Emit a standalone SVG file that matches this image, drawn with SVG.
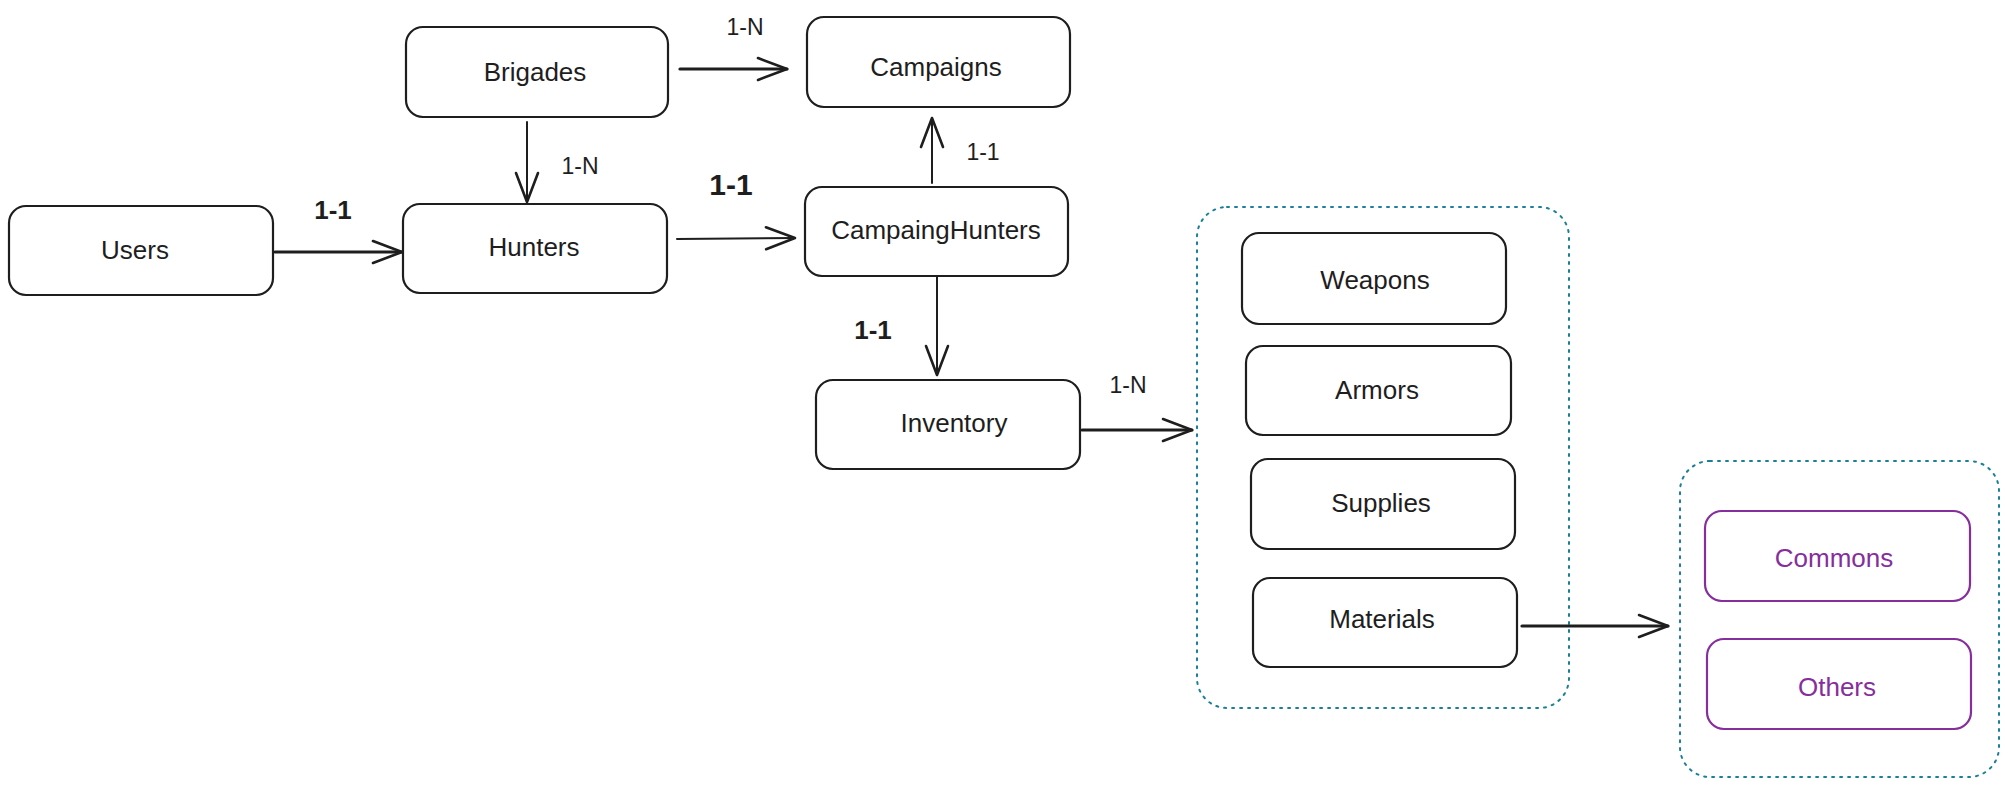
<svg xmlns="http://www.w3.org/2000/svg" width="2009" height="786" viewBox="0 0 2009 786">
  <style>
    .box { fill: #ffffff; stroke: #1e1e1e; stroke-width: 2.2; }
    .pbox { fill: #ffffff; stroke: #862e9c; stroke-width: 2.2; }
    .group { fill: none; stroke: #1c7f98; stroke-width: 2; stroke-dasharray: 2 6; stroke-linecap: round; }
    .t { font-family: "Liberation Sans", Arial, sans-serif; font-size: 26px; fill: #1e1e1e; text-anchor: middle; }
    .tp { font-family: "Liberation Sans", Arial, sans-serif; font-size: 26px; fill: #862e9c; text-anchor: middle; }
    .lbl { font-family: "Liberation Sans", Arial, sans-serif; font-size: 23px; fill: #1e1e1e; text-anchor: middle; }
    .lblb { font-family: "Liberation Sans", Arial, sans-serif; font-size: 26px; font-weight: bold; fill: #1e1e1e; text-anchor: middle; }
    .thin { fill: none; stroke: #1e1e1e; stroke-width: 2; stroke-linecap: round; }
    .thick { fill: none; stroke: #1e1e1e; stroke-width: 3.2; stroke-linecap: round; }
  </style>
  <defs>
    <marker id="ah" viewBox="0 0 34 28" refX="31" refY="14" markerWidth="34" markerHeight="28" markerUnits="userSpaceOnUse" orient="auto">
      <path d="M2,3 L31,14 L2,25" fill="none" stroke="#1e1e1e" stroke-width="2.6" stroke-linecap="round" stroke-linejoin="round"/>
    </marker>
  </defs>
  <rect width="2009" height="786" fill="#ffffff"/>

  <g id="inventory-group">
    <rect class="group" x="1197" y="207" width="372" height="501" rx="30"/>
  </g>
  <g id="materials-group">
    <rect class="group" x="1680" y="461" width="319" height="316" rx="30"/>
  </g>

  <g id="users">
    <rect class="box" x="9" y="206" width="264" height="89" rx="17"/>
    <text class="t" x="135" y="259">Users</text>
  </g>
  <g id="brigades">
    <rect class="box" x="406" y="27" width="262" height="90" rx="17"/>
    <text class="t" x="535" y="81">Brigades</text>
  </g>
  <g id="hunters">
    <rect class="box" x="403" y="204" width="264" height="89" rx="17"/>
    <text class="t" x="534" y="256">Hunters</text>
  </g>
  <g id="campaigns">
    <rect class="box" x="807" y="17" width="263" height="90" rx="17"/>
    <text class="t" x="936" y="76">Campaigns</text>
  </g>
  <g id="campaing-hunters">
    <rect class="box" x="805" y="187" width="263" height="89" rx="17"/>
    <text class="t" x="936" y="239">CampaingHunters</text>
  </g>
  <g id="inventory">
    <rect class="box" x="816" y="380" width="264" height="89" rx="17"/>
    <text class="t" x="954" y="432">Inventory</text>
  </g>
  <g id="weapons">
    <rect class="box" x="1242" y="233" width="264" height="91" rx="17"/>
    <text class="t" x="1375" y="289">Weapons</text>
  </g>
  <g id="armors">
    <rect class="box" x="1246" y="346" width="265" height="89" rx="17"/>
    <text class="t" x="1377" y="399">Armors</text>
  </g>
  <g id="supplies">
    <rect class="box" x="1251" y="459" width="264" height="90" rx="17"/>
    <text class="t" x="1381" y="512">Supplies</text>
  </g>
  <g id="materials">
    <rect class="box" x="1253" y="578" width="264" height="89" rx="17"/>
    <text class="t" x="1382" y="628">Materials</text>
  </g>
  <g id="commons">
    <rect class="pbox" x="1705" y="511" width="265" height="90" rx="17"/>
    <text class="tp" x="1834" y="567">Commons</text>
  </g>
  <g id="others">
    <rect class="pbox" x="1707" y="639" width="264" height="90" rx="17"/>
    <text class="tp" x="1837" y="696">Others</text>
  </g>

  <g id="connectors">
    <path class="thick" d="M275,252 L402,252" marker-end="url(#ah)"/>
    <path class="thick" d="M680,69 L787,69" marker-end="url(#ah)"/>
    <path class="thin" d="M527,122 L527,202" marker-end="url(#ah)"/>
    <path class="thin" d="M677,239 L795,238" marker-end="url(#ah)"/>
    <path class="thin" d="M932,183 L932,118" marker-end="url(#ah)"/>
    <path class="thin" d="M937,276 L937,375" marker-end="url(#ah)"/>
    <path class="thick" d="M1082,430 L1192,430" marker-end="url(#ah)"/>
    <path class="thick" d="M1522,626 L1668,626" marker-end="url(#ah)"/>

    <text class="lblb" x="333" y="219">1-1</text>
    <text class="lbl" x="745" y="35">1-N</text>
    <text class="lbl" x="580" y="174">1-N</text>
    <text class="lblb" x="731" y="195" style="font-size:30px">1-1</text>
    <text class="lbl" x="983" y="160">1-1</text>
    <text class="lblb" x="873" y="339">1-1</text>
    <text class="lbl" x="1128" y="393">1-N</text>
  </g>
</svg>
